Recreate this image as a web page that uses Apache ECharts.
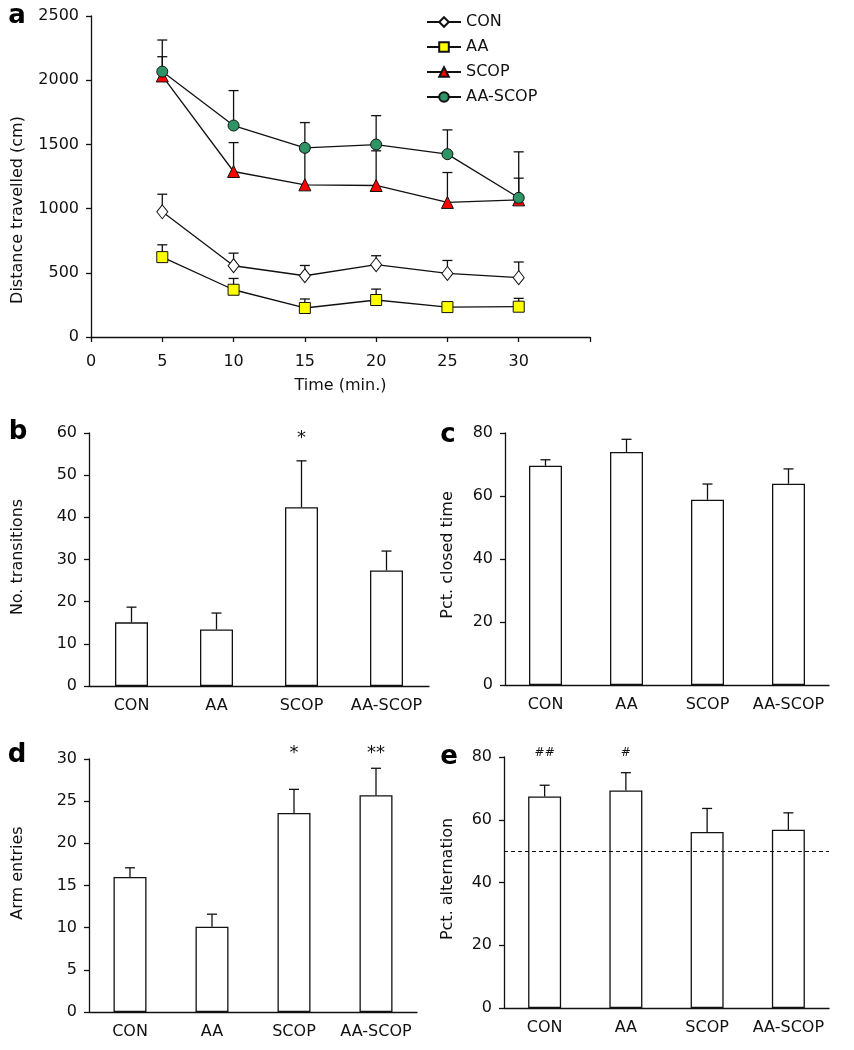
<!DOCTYPE html>
<html>
<head>
<meta charset="utf-8">
<script src="https://cdn.jsdelivr.net/npm/echarts@6/dist/echarts.min.js"></script>
<style>
  html, body { margin: 0; padding: 0; background: #fff; }
  #chart { width: 854px; height: 1050px; }
</style>
</head>
<body>
<div id="chart"></div>
<script>
// panel a: distance travelled over time
var times = [5, 10, 15, 20, 25, 30];
var conMean = [975, 555, 477, 563, 495, 462];
var conSem = [137, 98, 80, 70, 101, 122];
var aaMean = [622, 368, 226, 288, 233, 236];
var aaSem = [96, 88, 70, 85, 20, 65];
var scopMean = [2033, 1289, 1185, 1180, 1048, 1068];
var scopSem = [150, 225, 265, 270, 233, 169];
var aascopMean = [2067, 1647, 1473, 1499, 1424, 1084];
var aascopSem = [246, 272, 197, 225, 189, 358];

// bar panels
var groups = ['CON', 'AA', 'SCOP', 'AA-SCOP'];
var transMean = [15.1, 13.4, 42.4, 27.4];     // b
var transSem = [3.6, 3.9, 11.0, 4.6];
var transSig = ['', '', '*', ''];
var closedMean = [69.6, 74.0, 58.8, 63.9];    // c
var closedSem = [1.9, 4.0, 5.0, 4.7];
var armMean = [16.0, 10.1, 23.6, 25.7];       // d
var armSem = [1.1, 1.5, 2.8, 3.2];
var armSig = ['', '', '*', '**'];
var altMean = [67.4, 69.3, 56.1, 56.8];       // e
var altSem = [3.6, 5.7, 7.5, 5.4];
var altSig = ['##', '#', '', ''];
var chanceLevel = 50;

var FONT = 'DejaVu Sans';
var INK = '#111';
var FS = 16;

function pairs(xs, ys, es) {
  return ys.map(function (y, i) { return es ? [xs[i], y, es[i]] : [xs[i], y]; });
}

function errorRender(params, api) {
  var p0 = api.coord([api.value(0), api.value(1)]);
  var p1 = api.coord([api.value(0), api.value(1) + api.value(2)]);
  var st = { stroke: INK, lineWidth: 1.3 };
  return {
    type: 'group',
    children: [
      { type: 'line', shape: { x1: p0[0], y1: p0[1], x2: p1[0], y2: p1[1] }, style: st },
      { type: 'line', shape: { x1: p1[0] - 5, y1: p1[1], x2: p1[0] + 5, y2: p1[1] }, style: st }
    ]
  };
}

function errSeries(idx, data, z) {
  return {
    type: 'custom', xAxisIndex: idx, yAxisIndex: idx, z: z || 3,
    renderItem: errorRender, data: data, silent: true
  };
}

function sigSeries(idx, marks, yVal, size) {
  return {
    type: 'custom', xAxisIndex: idx, yAxisIndex: idx, z: 5, silent: true,
    data: marks.map(function (m, i) { return [i, yVal]; }),
    renderItem: function (params, api) {
      var p = api.coord([api.value(0), api.value(1)]);
      return {
        type: 'text', x: p[0], y: p[1],
        style: { text: marks[params.dataIndex], fill: INK, font: size + 'px ' + FONT, align: 'center', verticalAlign: 'middle' }
      };
    }
  };
}

function catAxis(idx) {
  return {
    type: 'category', gridIndex: idx, data: groups,
    axisLine: { lineStyle: { color: INK, width: 1.3 } },
    axisTick: { show: false },
    axisLabel: { color: INK, fontFamily: FONT, fontSize: FS, margin: 12, interval: 0, hideOverlap: false }
  };
}

function valAxis(idx, max, interval) {
  return {
    type: 'value', gridIndex: idx, min: 0, max: max, interval: interval,
    splitLine: { show: false },
    axisLine: { show: true, lineStyle: { color: INK, width: 1.3 } },
    axisTick: { show: true, length: 5, lineStyle: { color: INK, width: 1.3 } },
    axisLabel: {
      color: INK, fontFamily: FONT, fontSize: FS, margin: 12,
      formatter: function (v) { return String(v); }
    }
  };
}

function barSeries(idx, vals, extra) {
  var s = {
    type: 'bar', xAxisIndex: idx, yAxisIndex: idx, barWidth: 33, z: 2,
    data: vals,
    itemStyle: { color: '#fff', borderColor: INK, borderWidth: 1.3 },
    silent: true
  };
  if (extra) Object.assign(s, extra);
  return s;
}

function lineSeries(name, mean, symbol, size, fill) {
  return {
    name: name, type: 'line', xAxisIndex: 0, yAxisIndex: 0, z: 4,
    data: pairs(times, mean),
    symbol: symbol, symbolSize: size, showAllSymbol: true,
    lineStyle: { color: INK, width: 1.3 },
    itemStyle: { color: fill, borderColor: INK, borderWidth: 1 },
    emphasis: { disabled: true }
  };
}

function yTitle(text, x, y) {
  return {
    type: 'text', x: x, y: y, rotation: Math.PI / 2,
    style: { text: text, fill: INK, font: FS + 'px ' + FONT, align: 'center', verticalAlign: 'middle' }
  };
}

function panelLetter(text, x, y) {
  return {
    type: 'text', x: x, y: y,
    style: { text: text, fill: '#000', font: 'bold 26px ' + FONT, align: 'center', verticalAlign: 'middle' }
  };
}

var chart = echarts.init(document.getElementById('chart'), null, { renderer: 'canvas' });

var option = {
  backgroundColor: '#fff',
  animation: false,
  grid: [
    { left: 91, top: 16, width: 499, height: 321 },
    { left: 89, top: 433, width: 340, height: 253 },
    { left: 505, top: 433, width: 324, height: 252 },
    { left: 89, top: 759, width: 328, height: 253 },
    { left: 504, top: 757, width: 325, height: 251 }
  ],
  legend: {
    orient: 'vertical', left: 421, top: 9,
    itemWidth: 34, itemHeight: 12, itemGap: 9,
    textStyle: { color: INK, fontFamily: FONT, fontSize: FS, lineHeight: 16 },
    data: ['CON', 'AA', 'SCOP', 'AA-SCOP']
  },
  xAxis: [
    {
      type: 'value', gridIndex: 0, min: 0, max: 35, interval: 5,
      name: 'Time (min.)', nameLocation: 'middle', nameGap: 41,
      nameTextStyle: { color: INK, fontFamily: FONT, fontSize: FS },
      splitLine: { show: false },
      axisLine: { lineStyle: { color: INK, width: 1.3 } },
      axisTick: { length: 5, lineStyle: { color: INK, width: 1.3 } },
      axisLabel: {
        color: INK, fontFamily: FONT, fontSize: FS, margin: 17,
        formatter: function (v) { return v === 35 ? '' : String(v); }
      }
    },
    catAxis(1), catAxis(2), catAxis(3), catAxis(4)
  ],
  yAxis: [
    valAxis(0, 2500, 500),
    valAxis(1, 60, 10),
    valAxis(2, 80, 20),
    valAxis(3, 30, 5),
    valAxis(4, 80, 20)
  ],
  series: [
    errSeries(0, pairs(times, conMean, conSem), 3),
    errSeries(0, pairs(times, aaMean, aaSem), 3),
    errSeries(0, pairs(times, scopMean, scopSem), 3),
    errSeries(0, pairs(times, aascopMean, aascopSem), 3),
    lineSeries('CON', conMean, 'diamond', [11, 14], '#fff'),
    lineSeries('AA', aaMean, 'rect', 11, '#ffff00'),
    lineSeries('SCOP', scopMean, 'triangle', 12, '#ff0000'),
    lineSeries('AA-SCOP', aascopMean, 'circle', 11, '#2e9465'),

    barSeries(1, transMean),
    errSeries(1, pairs([0, 1, 2, 3], transMean, transSem)),
    sigSeries(1, transSig, 58.8, 18),

    barSeries(2, closedMean),
    errSeries(2, pairs([0, 1, 2, 3], closedMean, closedSem)),

    barSeries(3, armMean),
    errSeries(3, pairs([0, 1, 2, 3], armMean, armSem)),
    sigSeries(3, armSig, 30.7, 18),

    barSeries(4, altMean, {
      markLine: {
        silent: true, symbol: 'none', label: { show: false },
        lineStyle: { color: INK, type: [4, 3], width: 1 },
        data: [{ yAxis: chanceLevel }]
      }
    }),
    errSeries(4, pairs([0, 1, 2, 3], altMean, altSem)),
    sigSeries(4, altSig, 81.2, 12)
  ],
  graphic: [
    panelLetter('a', 17, 16),
    panelLetter('b', 18, 432),
    panelLetter('c', 448, 435),
    panelLetter('d', 17, 755),
    panelLetter('e', 449, 757),
    yTitle('Distance travelled (cm)', 18, 210),
    yTitle('No. transitions', 18, 557),
    yTitle('Pct. closed time', 448, 555),
    yTitle('Arm entries', 18, 873),
    yTitle('Pct. alternation', 448, 879)
  ]
};

chart.setOption(option);
</script>
</body>
</html>
